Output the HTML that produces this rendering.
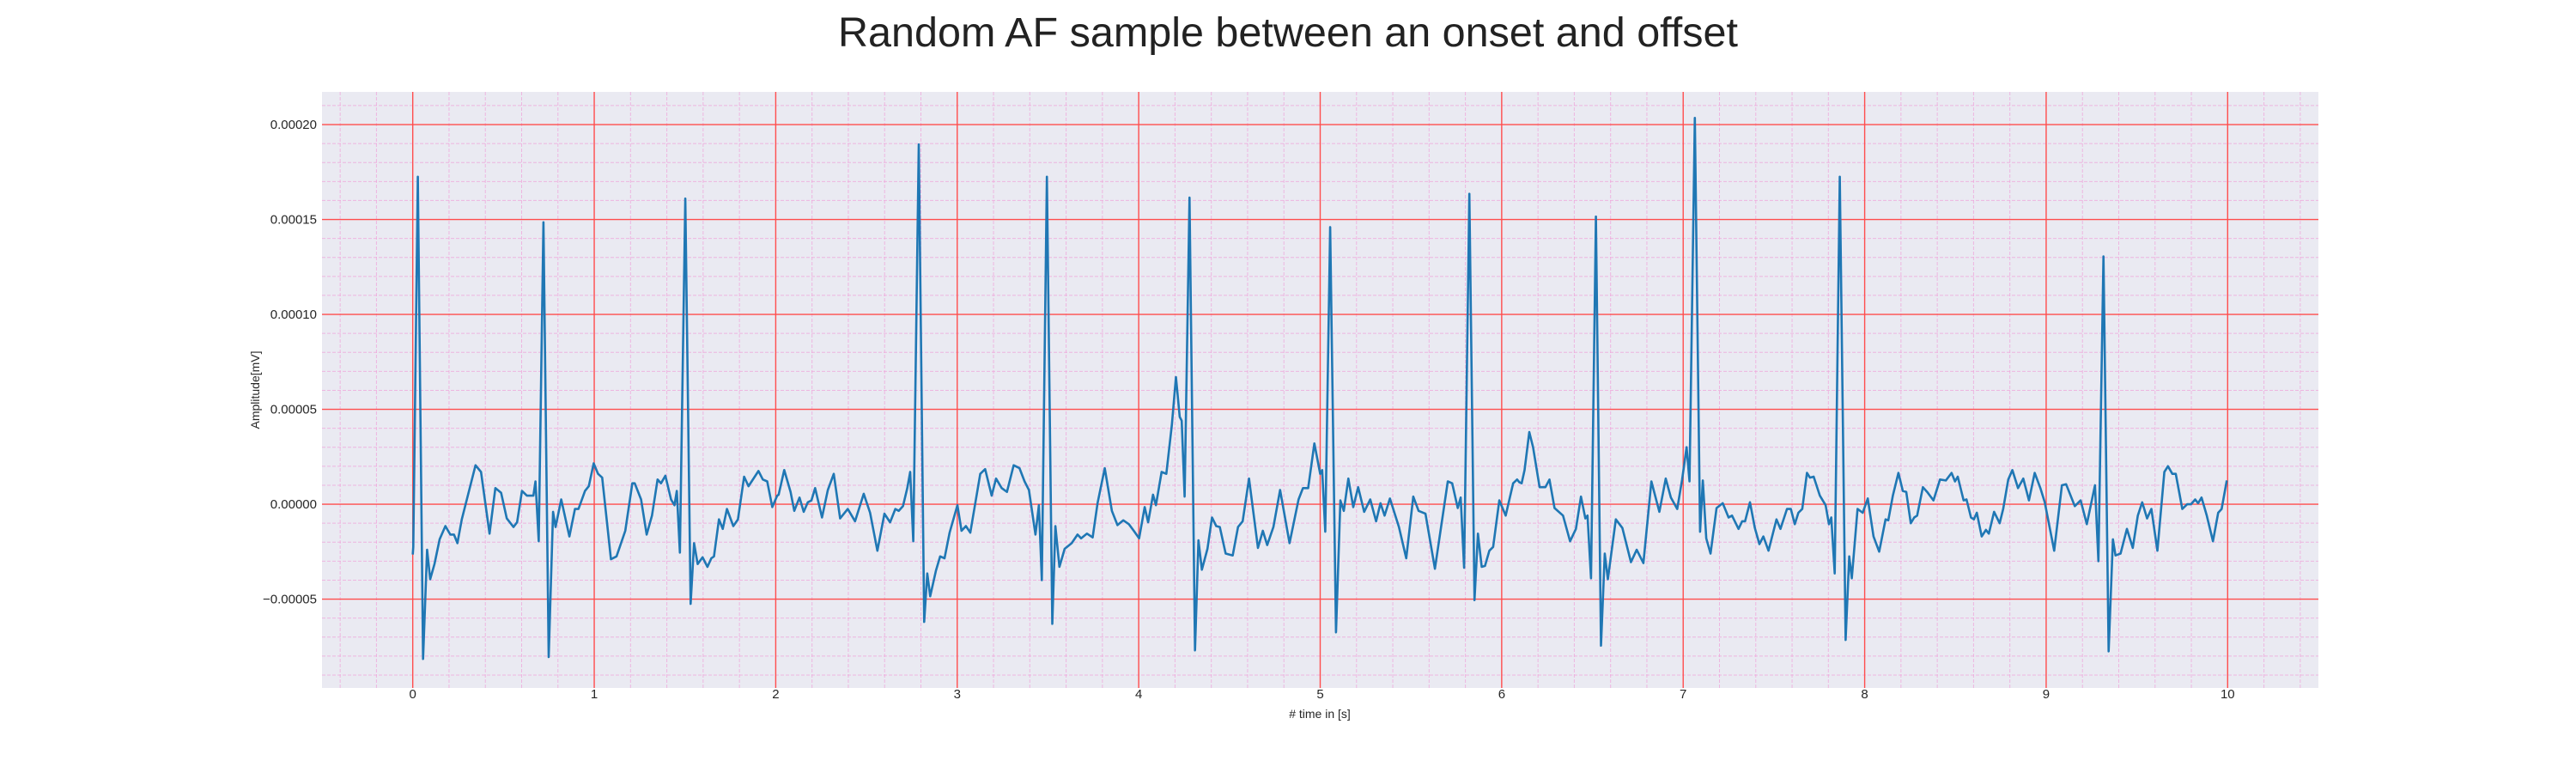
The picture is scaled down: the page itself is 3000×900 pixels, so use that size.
<!DOCTYPE html>
<html><head><meta charset="utf-8"><style>
html,body{margin:0;padding:0;background:#fff;}
svg{display:block;font-family:"Liberation Sans",sans-serif;}
</style></head><body>
<svg id="chart" width="3000" height="900" viewBox="0 0 3000 900" xmlns="http://www.w3.org/2000/svg">
<defs><clipPath id="plotclip"><rect x="375" y="107" width="2325" height="694"/></clipPath></defs>
<text x="1500" y="54" text-anchor="middle" font-size="48.5" fill="#222">Random AF sample between an onset and offset</text>
<rect x="375" y="107" width="2325" height="694" fill="#eaeaf2"/>
<g id="grid-minor"></g>
<g id="grid-major"></g>
<g id="series" clip-path="url(#plotclip)"></g>
<g id="xticks"></g>
<g id="yticks"></g>
<text x="1537" y="836" text-anchor="middle" font-size="14" fill="#262626"># time in [s]</text>
<text transform="translate(302,454) rotate(-90)" text-anchor="middle" font-size="14" fill="#262626">Amplitude[mV]</text>
</svg>
<script>
const xTicks = [0,1,2,3,4,5,6,7,8,9,10];
const yTicks = [-0.00005,0,0.00005,0.0001,0.00015,0.0002];
const yTickLabels = ["\u22120.00005","0.00000","0.00005","0.00010","0.00015","0.00020"];
const timeS = [0,0.003,0.028,0.057,0.079,0.096,0.12,0.148,0.18,0.207,0.227,0.246,0.27,0.346,0.376,0.423,0.455,0.487,0.518,0.555,0.575,0.602,0.629,0.665,0.676,0.694,0.72,0.749,0.773,0.787,0.818,0.863,0.894,0.913,0.949,0.97,0.997,1.021,1.044,1.092,1.123,1.171,1.21,1.223,1.258,1.289,1.318,1.349,1.368,1.392,1.423,1.442,1.455,1.472,1.502,1.531,1.55,1.57,1.597,1.624,1.645,1.66,1.687,1.708,1.731,1.766,1.792,1.826,1.85,1.905,1.929,1.953,1.981,2.008,
2.016,2.047,2.082,2.102,2.131,2.154,2.177,2.197,2.217,2.255,2.287,2.32,2.355,2.397,2.437,2.485,2.52,2.56,2.599,2.63,2.659,2.678,2.701,2.725,2.741,2.758,2.788,2.818,2.835,2.851,2.883,2.906,2.93,2.958,3.001,3.024,3.048,3.072,3.127,3.154,3.19,3.214,3.245,3.274,3.311,3.343,3.371,3.395,3.431,3.45,3.466,3.494,3.524,3.541,3.563,3.592,3.631,3.663,3.683,3.715,3.746,3.773,3.813,3.852,3.883,3.915,3.946,3.973,4.002,4.033,4.052,4.065,
4.079,4.095,4.126,4.152,4.183,4.205,4.226,4.237,4.253,4.28,4.31,4.329,4.348,4.379,4.404,4.427,4.447,4.479,4.518,4.547,4.573,4.608,4.657,4.684,4.708,4.742,4.779,4.831,4.881,4.905,4.934,4.968,5.0,5.011,5.028,5.055,5.087,5.111,5.13,5.155,5.182,5.209,5.242,5.276,5.308,5.332,5.355,5.384,5.434,5.474,5.513,5.542,5.58,5.632,5.703,5.727,5.758,5.774,5.793,5.822,5.85,5.869,5.89,5.908,5.932,5.953,5.987,6.022,6.063,6.085,6.098,
6.11,6.126,6.152,6.173,6.209,6.241,6.263,6.291,6.338,6.377,6.409,6.437,6.461,6.473,6.492,6.519,6.547,6.568,6.585,6.629,6.665,6.712,6.744,6.781,6.825,6.869,6.904,6.932,6.967,6.994,7.019,7.035,7.064,7.093,7.108,7.127,7.151,7.184,7.218,7.25,7.269,7.305,7.325,7.341,7.368,7.395,7.42,7.442,7.47,7.514,7.536,7.572,7.593,7.615,7.635,7.656,7.682,7.698,7.719,7.753,7.785,7.803,7.816,7.835,7.863,7.895,7.915,7.929,7.961,7.989,8.017,8.049,8.08,8.115,8.13,
8.155,8.186,8.21,8.229,8.254,8.273,8.289,8.321,8.344,8.379,8.415,8.447,8.479,8.498,8.513,8.545,8.561,8.586,8.602,8.618,8.645,8.668,8.684,8.713,8.744,8.763,8.791,8.814,8.845,8.874,8.905,8.937,8.968,8.992,9.044,9.087,9.11,9.158,9.19,9.224,9.269,9.288,9.316,9.344,9.368,9.382,9.41,9.445,9.477,9.505,9.529,9.556,9.58,9.613,9.651,9.671,9.695,9.714,9.75,9.777,9.798,9.821,9.837,9.856,9.885,9.919,9.948,9.967,9.995];
const amplitudeHalfE5 = [-5.3,-4.5,34.5,-16.3,-4.8,-7.9,-6.3,-3.7,-2.3,-3.2,-3.2,-4.1,-1.6,4.1,3.4,-3.1,1.7,1.2,-1.5,-2.4,-1.9,1.4,0.9,0.9,2.4,-3.9,29.7,-16.1,-0.8,-2.4,0.5,-3.4,-0.5,-0.5,1.4,1.9,4.3,3.2,2.8,-5.8,-5.5,-2.8,2.2,2.2,0.5,-3.2,-1.2,2.6,2.2,3.0,0.5,-0.1,1.4,-5.1,32.2,-10.5,-4.1,-6.3,-5.6,-6.6,-5.7,-5.5,-1.6,-2.6,-0.5,-2.3,-1.6,2.9,1.9,3.5,2.6,2.4,-0.3,0.9,
1.0,3.6,1.3,-0.7,0.7,-0.8,0.2,0.4,1.7,-1.4,1.5,3.2,-1.5,-0.5,-1.8,1.1,-0.9,-4.9,-1.0,-1.9,-0.5,-0.7,-0.2,1.7,3.4,-3.9,37.9,-12.4,-7.3,-9.7,-7.0,-5.5,-5.7,-3.0,-0.1,-2.8,-2.3,-3.0,3.2,3.7,0.9,2.7,1.7,1.3,4.1,3.8,2.4,1.5,-3.2,-0.1,-8.0,34.5,-12.6,-2.3,-6.6,-4.7,-4.1,-3.2,-3.6,-3.1,-3.5,0.1,3.8,-0.7,-2.2,-1.7,-2.1,-2.8,-3.6,-0.3,-1.9,-0.5,
1.0,-0.1,3.4,3.2,8.4,13.4,9.2,8.8,0.8,32.3,-15.4,-3.8,-6.9,-4.7,-1.4,-2.3,-2.4,-5.2,-5.4,-2.4,-1.8,2.7,-4.6,-2.8,-4.3,-2.4,1.5,-4.1,0.5,1.7,1.7,6.4,3.2,3.6,-2.9,29.2,-13.5,0.4,-0.7,2.7,-0.3,1.8,-0.8,0.5,-1.8,0.1,-1.2,0.6,-2.4,-5.7,0.8,-0.7,-1.0,-6.8,2.4,2.2,-0.4,0.7,-6.7,32.7,-10.1,-3.1,-6.6,-6.5,-4.9,-4.5,0.4,-1.2,2.2,2.6,2.3,
2.2,3.6,7.6,6.0,1.8,1.8,2.6,-0.4,-1.2,-3.9,-2.6,0.8,-1.5,-1.2,-7.8,30.3,-14.9,-5.2,-7.9,-1.6,-2.5,-6.1,-4.8,-6.2,2.4,-0.8,2.7,0.7,-0.5,2.6,6.0,2.4,40.7,-2.9,2.5,-3.6,-5.2,-0.4,0.1,-1.4,-1.2,-2.6,-1.8,-1.8,0.2,-2.5,-4.2,-3.4,-4.9,-1.6,-2.6,-0.5,-0.5,-2.1,-0.9,-0.5,3.3,2.8,2.9,0.9,-0.1,-2.1,-1.4,-7.3,34.5,-14.3,-5.5,-7.8,-0.5,-0.9,0.6,-3.4,-5.0,-1.6,-1.7,
0.9,3.3,1.4,1.3,-2.0,-1.4,-1.2,1.8,1.3,0.4,2.6,2.5,3.3,2.4,2.9,0.4,0.5,-1.4,-1.6,-0.9,-3.4,-2.7,-3.1,-0.8,-2.0,-0.5,2.6,3.6,1.7,2.7,0.4,3.3,1.7,0.2,-4.9,2.0,2.1,-0.2,0.4,-2.1,2.0,-6.0,26.1,-15.5,-3.7,-5.4,-5.2,-2.6,-4.6,-1.2,0.2,-1.5,-0.5,-4.9,3.4,4.0,3.2,3.2,-0.5,0.0,0.0,0.5,0.1,0.7,-1.2,-3.9,-0.9,-0.5,2.5];
const AMP_SCALE = 0.5e-5;

const NS = "http://www.w3.org/2000/svg";
const X0 = 375, X1 = 2700, Y0 = 107, Y1 = 801;
const XMIN = -0.5, XMAX = 10.5, YMIN = -0.0000968, YMAX = 0.0002172;
function sx(t){ return X0 + (t - XMIN) / (XMAX - XMIN) * (X1 - X0); }
function sy(v){ return Y1 - (v - YMIN) / (YMAX - YMIN) * (Y1 - Y0); }
function mk(tag, attrs, parent){
  const e = document.createElementNS(NS, tag);
  for (const k in attrs) e.setAttribute(k, attrs[k]);
  parent.appendChild(e);
  return e;
}
const gMin = document.getElementById('grid-minor');
const gMaj = document.getElementById('grid-major');
const gSer = document.getElementById('series');
const gX = document.getElementById('xticks');
const gY = document.getElementById('yticks');

for (let i = -2; i <= 52; i++) {
  const t = i * 0.2;
  if (i % 5 === 0) continue;
  const l = mk('line', {x1: sx(t), x2: sx(t), y1: Y0, y2: Y1, stroke: '#f0a0d8', 'stroke-opacity': 0.7, 'stroke-width': 1, 'stroke-dasharray': '4,2'}, gMin);
  
  
}
for (let i = -9; i <= 21; i++) {
  if (i % 5 === 0) continue;
  const v = i * 1e-5;
  const l = mk('line', {x1: X0, x2: X1, y1: sy(v), y2: sy(v), stroke: '#f0a0d8', 'stroke-opacity': 0.7, 'stroke-width': 1, 'stroke-dasharray': '4,2'}, gMin);
  
  
}
xTicks.forEach(t => {
  const l = mk('line', {x1: sx(t), x2: sx(t), y1: Y0, y2: Y1, stroke: '#ff4d4d', 'stroke-width': 1.4}, gMaj);
  
  
  const tx = mk('text', {x: sx(t), y: 813, 'text-anchor': 'middle', 'font-size': 15, fill: '#262626'}, gX);
  tx.textContent = String(t);
  
  
});
yTicks.forEach((v, i) => {
  const l = mk('line', {x1: X0, x2: X1, y1: sy(v), y2: sy(v), stroke: '#ff4d4d', 'stroke-width': 1.4}, gMaj);
  
  
  const tx = mk('text', {x: 369, y: sy(v) + 5, 'text-anchor': 'end', 'font-size': 15, fill: '#262626'}, gY);
  tx.textContent = yTickLabels[i];
  
  
});
let d = '';
timeS.forEach((t, i) => {
  d += (i ? 'L' : 'M') + sx(t).toFixed(1) + ',' + sy(amplitudeHalfE5[i] * AMP_SCALE).toFixed(1);
});
const p = mk('path', {d: d, fill: 'none', stroke: '#1f77b4', 'stroke-width': 2.6, 'stroke-linejoin': 'round'}, gSer);


</script>
</body></html>
